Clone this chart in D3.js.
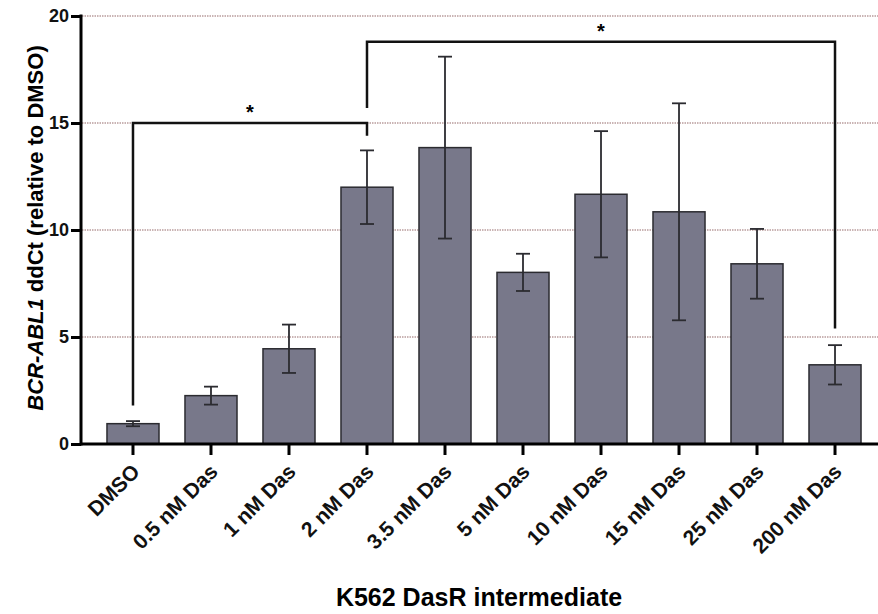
<!DOCTYPE html>
<html>
<head>
<meta charset="utf-8">
<script src="https://cdn.jsdelivr.net/npm/d3@7"></script>
<style>
  body { margin: 0; background: #fff; }
  svg { display: block; font-family: "Liberation Sans", Arial, sans-serif; font-weight: bold; }
</style>
</head>
<body>
<svg id="chart" width="878" height="614"></svg>
<script>
// Data
const categories = ["DMSO", "0.5 nM Das", "1 nM Das", "2 nM Das", "3.5 nM Das", "5 nM Das",
                    "10 nM Das", "15 nM Das", "25 nM Das", "200 nM Das"];
const means = [0.95, 2.26, 4.45, 12.0, 13.85, 8.02, 11.67, 10.85, 8.42, 3.7];
const errors = [0.12, 0.42, 1.13, 1.72, 4.25, 0.87, 2.95, 5.07, 1.63, 0.92];
const yTicks = [0, 5, 10, 15, 20];
// significance brackets: from category, to category, bracket height, left foot, right foot
const brackets = [
  { from: "DMSO", to: "2 nM Das", top: 15.0, leftFoot: 1.8, rightFoot: 14.4, label: "*" },
  { from: "2 nM Das", to: "200 nM Das", top: 18.8, leftFoot: 15.7, rightFoot: 5.4, label: "*" }
];

const width = 878, height = 614;
const svg = d3.select("#chart");

const x = d3.scaleBand().domain(categories).range([81, 887]).paddingInner(0.333).paddingOuter(0.333);
const y = d3.scaleLinear().domain([0, 20]).range([444, 16]);

// Grid lines
svg.append("g").selectAll("line")
   .data(yTicks.filter(d => d > 0))
   .join("line")
   .attr("x1", 82).attr("x2", width)
   .attr("y1", d => y(d)).attr("y2", d => y(d))
   .attr("stroke", "#b99c9c")
   .attr("stroke-width", 1.3)
   .attr("stroke-dasharray", "1.5,1");

// Bars
svg.append("g").selectAll("rect")
   .data(categories)
   .join("rect")
   .attr("x", d => x(d))
   .attr("y", (d, i) => y(means[i]))
   .attr("width", x.bandwidth())
   .attr("height", (d, i) => y(0) - y(means[i]))
   .attr("fill", "#78788a")
   .attr("stroke", "#2b2b30")
   .attr("stroke-width", 1.5);

// Error bars
const cx = d => x(d) + x.bandwidth() / 2;
const err = svg.append("g").attr("stroke", "#2b2b30").attr("stroke-width", 1.8);
categories.forEach((c, i) => {
  const lo = y(means[i] - errors[i]), hi = y(means[i] + errors[i]);
  err.append("line").attr("x1", cx(c)).attr("x2", cx(c)).attr("y1", lo).attr("y2", hi);
  err.append("line").attr("x1", cx(c) - 7).attr("x2", cx(c) + 7).attr("y1", lo).attr("y2", lo);
  err.append("line").attr("x1", cx(c) - 7).attr("x2", cx(c) + 7).attr("y1", hi).attr("y2", hi);
});

// Significance brackets
brackets.forEach(b => {
  const x1 = cx(b.from), x2 = cx(b.to);
  svg.append("path")
     .attr("d", `M${x1},${y(b.leftFoot)}V${y(b.top)}H${x2}V${y(b.rightFoot)}`)
     .attr("fill", "none")
     .attr("stroke", "#111")
     .attr("stroke-width", 2.5);
  svg.append("text")
     .attr("x", (x1 + x2) / 2)
     .attr("y", y(b.top) - 4)
     .attr("text-anchor", "middle")
     .attr("font-size", 20)
     .text(b.label);
});

// Y axis
const yAxis = svg.append("g")
   .attr("transform", "translate(81,0)")
   .call(d3.axisLeft(y).tickValues(yTicks).tickSize(10).tickSizeOuter(0).tickPadding(2));
yAxis.select(".domain").attr("stroke-width", 3).attr("d", `M0,${y(20) - 1.5}V${y(0) + 1.5}`);
yAxis.selectAll(".tick line").attr("stroke-width", 3);
yAxis.selectAll(".tick text").attr("font-size", 18).attr("font-weight", "bold").attr("fill", "#111")
     .attr("font-family", "Liberation Sans, Arial, sans-serif");

// X axis
svg.append("line")
   .attr("x1", 80).attr("x2", width)
   .attr("y1", y(0)).attr("y2", y(0))
   .attr("stroke", "#000").attr("stroke-width", 3);
const xAxis = svg.append("g")
   .attr("transform", `translate(0,${y(0)})`)
   .call(d3.axisBottom(x).tickSize(11).tickSizeOuter(0));
xAxis.select(".domain").remove();
xAxis.selectAll(".tick line").attr("stroke-width", 3);
xAxis.selectAll(".tick text")
     .attr("font-size", 21).attr("font-weight", "bold").attr("fill", "#111")
     .attr("font-family", "Liberation Sans, Arial, sans-serif")
     .attr("text-anchor", "end")
     .attr("dy", null)
     .attr("y", null)
     .attr("transform", "translate(8,29) rotate(-45)");

// Axis titles
const yTitle = svg.append("text")
   .attr("transform", "translate(43,228) rotate(-90)")
   .attr("text-anchor", "middle")
   .attr("font-size", 22);
yTitle.append("tspan").attr("font-style", "italic").text("BCR-ABL1");
yTitle.append("tspan").text(" ddCt (relative to DMSO)");

svg.append("text")
   .attr("x", 479).attr("y", 606)
   .attr("text-anchor", "middle")
   .attr("font-size", 25)
   .text("K562 DasR intermediate");
</script>
</body>
</html>
